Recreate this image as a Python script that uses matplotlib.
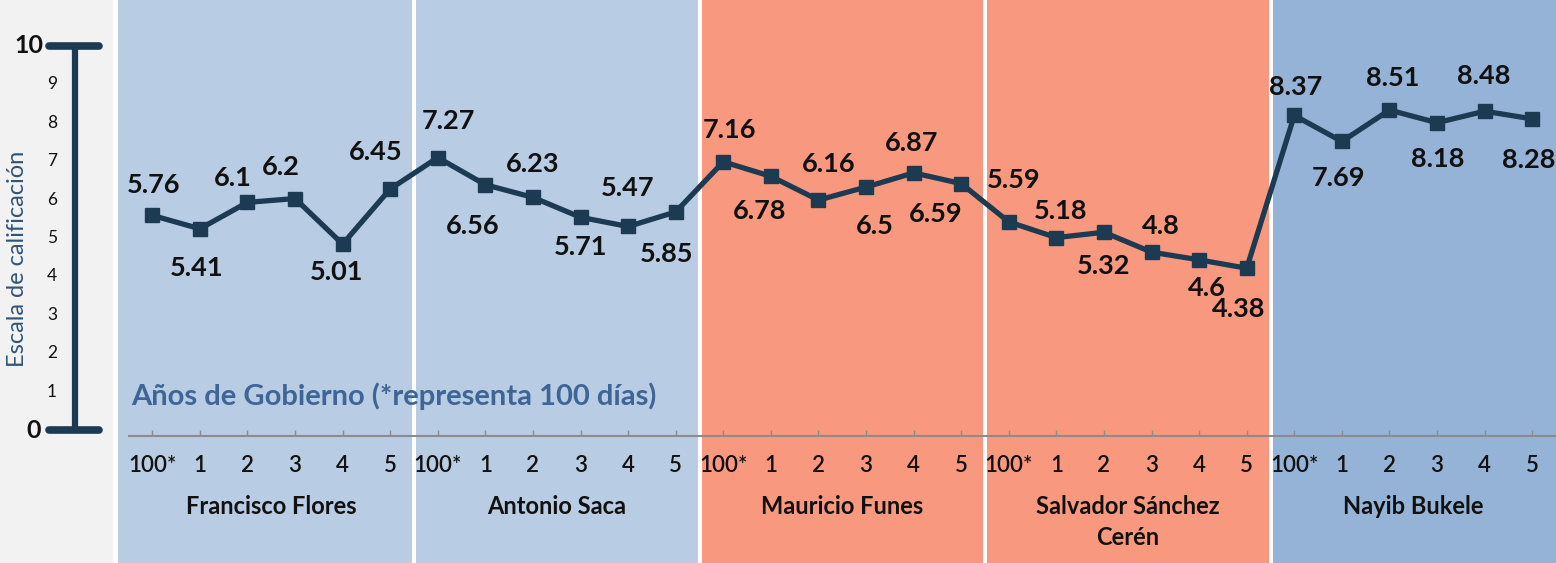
import matplotlib.pyplot as plt
import matplotlib.transforms as mtransforms
from matplotlib.patches import Rectangle

# ---- data ----
presidents = ["Francisco Flores", "Antonio Saca", "Mauricio Funes",
              "Salvador Sánchez\nCerén", "Nayib Bukele"]
periods = ["100*", "1", "2", "3", "4", "5"]
flores = [5.76, 5.41, 6.1, 6.2, 5.01, 6.45]
saca = [7.27, 6.56, 6.23, 5.71, 5.47, 5.85]
funes = [7.16, 6.78, 6.16, 6.5, 6.87, 6.59]
sanchez = [5.59, 5.18, 5.32, 4.8, 4.6, 4.38]
bukele = [8.37, 7.69, 8.51, 8.18, 8.48, 8.28]
scale_ticks = [1, 2, 3, 4, 5, 6, 7, 8, 9]

values = flores + saca + funes + sanchez + bukele
tick_labels = periods * len(presidents)

# label offsets (pixels) for each data label, as placed in the original
label_offsets = [
    (1, 30), (-3, -39), (-15, 24), (-14, 32), (-6, -28), (-15, 37),
    (11, 37), (-13, -41), (0, 33), (0, -30), (-1, 38), (-9, -42),
    (6, 32), (-11, -35), (10, 36), (9, -39), (-2, 30), (-26, -30),
    (5, 42), (4, 27), (0, -34), (9, 26), (8, -28), (-8, -41),
    (1, 28), (-3, -37), (3, 32), (1, -36), (-1, 35), (-4, -41),
]

band_colors = ["#b8cce4", "#b8cce4", "#f8997f", "#f8997f", "#95b3d7"]
line_color = "#1c3a52"

W, H = 1556, 563
plt.rcParams["font.family"] = ["Lato", "DejaVu Sans"]
fig = plt.figure(figsize=(W / 100, H / 100), dpi=100)
fig.patch.set_facecolor("white")

# grey side panel
fig.patches.append(Rectangle((0, 0), 113 / W, 1, transform=fig.transFigure,
                             facecolor="#f2f2f2", edgecolor="none", zorder=-10))

ax = fig.add_axes([128.5 / W, 1 - 436 / H, (W - 128.5) / W, 383 / H])
ax.set_facecolor("none")
x = list(range(len(values)))
ax.set_xlim(-0.5, len(values) - 0.5)
ax.set_ylim(0, 10)

# bands behind the chart
trans = mtransforms.blended_transform_factory(ax.transData, fig.transFigure)
px = (len(values)) / (W - 128.5)  # data units per pixel
for i, c in enumerate(band_colors):
    left = i * 6 - 0.5 + 2 * px
    right = i * 6 + 5.5 - 2 * px
    if i == 0:
        left = -0.5 - 10.5 * px
    if i == len(band_colors) - 1:
        right = len(values) - 0.5 + 5 * px
    fig.patches.append(Rectangle((left, 0), right - left, 1, transform=trans,
                                 facecolor=c, edgecolor="none", zorder=-10))

ax.plot(x, values, color=line_color, lw=3.8, marker="s", ms=10.5,
        markeredgecolor=line_color, zorder=3)

for xi, v, (dx, dy) in zip(x, values, label_offsets):
    ax.annotate(f"{v:g}", (xi, v), xytext=(dx, dy), textcoords="offset pixels",
                ha="center", va="center", fontsize=19.5, fontweight="bold",
                color="#111111", zorder=4)

for s in ["top", "right", "left"]:
    ax.spines[s].set_visible(False)
ax.spines["bottom"].set_color("#8c8c8c")
ax.spines["bottom"].set_linewidth(1.5)
ax.set_yticks([])
ax.set_xticks(x)
ax.set_xticklabels(tick_labels, fontsize=16, fontweight="semibold", color="#111111")
ax.tick_params(axis="x", direction="in", length=4, width=1, color="#8c8c8c", pad=14)

for i, name in enumerate(presidents):
    ax.text(i * 6 + 2.5, 1 - 495 / H, name, transform=trans, ha="center", va="top",
            fontsize=17, fontweight="bold", color="#111111", linespacing=1.4)

fig.text(131 / W, 1 - 396 / H, "Años de Gobierno (*representa 100 días)",
         fontsize=21, fontweight="bold", color="#3f6597", va="center", ha="left")

# rating scale on the left
axs = fig.add_axes([0, 1 - 430 / H, 113 / W, 384 / H])
axs.set_xlim(0, 113)
axs.set_ylim(0, 10)
axs.axis("off")
axs.plot([75, 75], [0, 10], color=line_color, lw=4.5, solid_capstyle="butt", clip_on=False)
for yv in (0, 10):
    axs.plot([49, 99], [yv, yv], color=line_color, lw=5.5, solid_capstyle="round", clip_on=False)
axs.text(43, 10, "10", ha="right", va="center", fontsize=18, fontweight="bold", color="#111111")
axs.text(41, 0, "0", ha="right", va="center", fontsize=18, fontweight="bold", color="#111111")
for t in scale_ticks:
    axs.text(52, t, str(t), ha="center", va="center", fontsize=12.5, color="#111111")
axs.text(18, 4.45, "Escala de calificación", rotation=90, ha="center", va="center",
         fontsize=17, color="#2f5577")

fig.savefig("out.png", dpi=100)
